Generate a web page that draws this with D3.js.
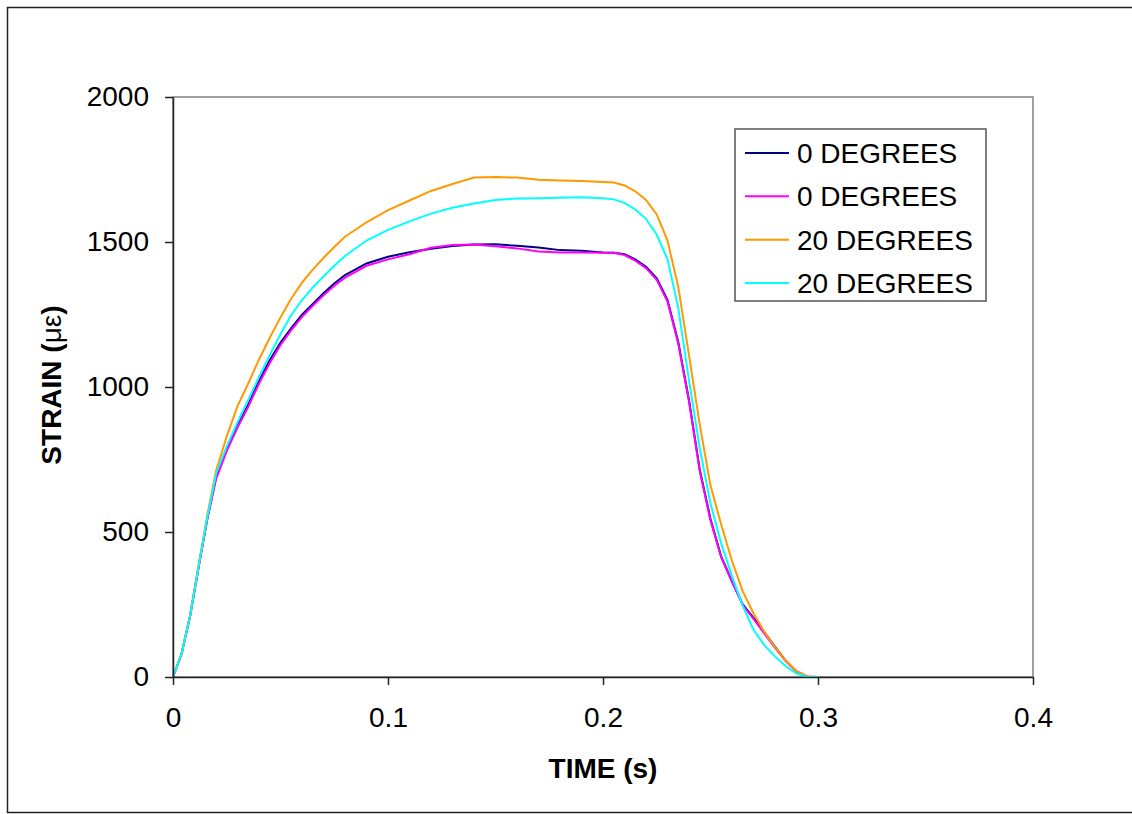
<!DOCTYPE html>
<html lang="en">
<head>
  <meta charset="UTF-8">
  <title>Strain vs time</title>
  <script src="https://d3js.org/d3.v7.min.js"></script>
  <style>
    body { margin: 0; background: #fff; }
    svg { font-family: "Liberation Sans", Arial, sans-serif; }
    .tick text { font-size: 28px; fill: #000; }
  </style>
</head>
<body>
  <svg width="1132" height="814"></svg>
  <script>
    // shared sample times (s)
    const time = [0, 0.004, 0.008, 0.012, 0.016, 0.02, 0.025, 0.03, 0.035, 0.04,
      0.045, 0.05, 0.055, 0.06, 0.065, 0.07, 0.075, 0.08, 0.09, 0.10,
      0.11, 0.12, 0.13, 0.14, 0.15, 0.16, 0.17, 0.18, 0.19, 0.20,
      0.205, 0.21, 0.215, 0.22, 0.225, 0.23, 0.235, 0.24, 0.245, 0.25,
      0.255, 0.26, 0.265, 0.27, 0.275, 0.28, 0.285, 0.29, 0.295, 0.30];

    // strain (microstrain) per series
    const deg0a = [0, 80, 212, 383, 547, 688, 785, 868, 940, 1021,
      1092, 1153, 1203, 1249, 1286, 1323, 1357, 1386, 1426, 1449,
      1465, 1477, 1486, 1491, 1492, 1487, 1481, 1472, 1470, 1464,
      1463, 1458, 1440, 1415, 1375, 1300, 1155, 955, 715, 545,
      415, 330, 250, 204, 155, 104, 56, 18, 0, 0];
    const deg0b = [0, 80, 212, 383, 547, 682, 780, 860, 932, 1012,
      1083, 1145, 1196, 1242, 1280, 1316, 1349, 1377, 1418, 1440,
      1458, 1480, 1490, 1491, 1485, 1478, 1467, 1464, 1464, 1463,
      1463, 1455, 1436, 1410, 1370, 1295, 1150, 950, 710, 540,
      412, 328, 248, 200, 150, 100, 55, 20, 2, 0];
    const deg20a = [0, 80, 215, 390, 560, 710, 830, 934, 1012, 1095,
      1170, 1240, 1305, 1360, 1405, 1445, 1483, 1518, 1568, 1610,
      1643, 1676, 1700, 1722, 1724, 1722, 1715, 1712, 1710, 1707,
      1705, 1695, 1675, 1645, 1595, 1505, 1345, 1110, 870, 660,
      525, 400, 295, 220, 156, 102, 56, 20, 2, 0];
    const deg20b = [0, 80, 213, 386, 552, 700, 795, 878, 955, 1035,
      1110, 1182, 1248, 1300, 1343, 1381, 1418, 1452, 1505, 1542,
      1571, 1598, 1618, 1633, 1645, 1650, 1651, 1653, 1654, 1651,
      1647, 1635, 1612, 1580, 1525, 1440, 1273, 1023, 789, 598,
      460, 347, 245, 163, 110, 71, 37, 12, 0, 0];

    const seriesNames = ["0 DEGREES", "0 DEGREES", "20 DEGREES", "20 DEGREES"];
    const seriesColors = ["#000080", "#ff00ff", "#ff9900", "#00ffff"];
    const seriesValues = [deg0a, deg0b, deg20a, deg20b];

    const xTicks = [0, 0.1, 0.2, 0.3, 0.4];
    const yTicks = [0, 500, 1000, 1500, 2000];

    const svg = d3.select("svg");
    const plot = { left: 173, top: 97, right: 1033, bottom: 677 };

    // outer chart border (right edge runs off the picture)
    svg.append("rect")
      .attr("x", 7.5).attr("y", 7.5)
      .attr("width", 1140).attr("height", 805)
      .attr("fill", "none")
      .attr("stroke", "#222")
      .attr("stroke-width", 1.5);

    const x = d3.scaleLinear().domain([0, 0.4]).range([plot.left, plot.right]);
    const y = d3.scaleLinear().domain([0, 2000]).range([plot.bottom, plot.top]);

    // plot area frame (grey top / right)
    svg.append("rect")
      .attr("x", plot.left).attr("y", plot.top)
      .attr("width", plot.right - plot.left)
      .attr("height", plot.bottom - plot.top)
      .attr("fill", "none")
      .attr("stroke", "#808080")
      .attr("stroke-width", 1.5);

    const fmt = d3.format("~g");

    const line = d3.line()
      .x((d, i) => x(time[i]))
      .y(d => y(d));

    svg.append("g")
      .selectAll("path")
      .data(seriesValues)
      .join("path")
      .attr("fill", "none")
      .attr("stroke", (d, i) => seriesColors[i])
      .attr("stroke-width", 2)
      .attr("d", line);

    const yAxis = svg.append("g")
      .attr("transform", `translate(${plot.left},0)`)
      .call(d3.axisLeft(y).tickValues(yTicks).tickFormat(d3.format("d"))
        .tickSize(8).tickSizeOuter(0).tickPadding(16));

    const xAxis = svg.append("g")
      .attr("transform", `translate(0,${plot.bottom})`)
      .call(d3.axisBottom(x).tickValues(xTicks).tickFormat(fmt)
        .tickSize(8).tickSizeOuter(0).tickPadding(22));

    [xAxis, yAxis].forEach(g => {
      g.attr("font-family", null).attr("font-size", null);
      g.select(".domain").attr("stroke", "#222").attr("stroke-width", 1.5);
      g.selectAll(".tick line").attr("stroke", "#222").attr("stroke-width", 1.5);
    });

    // axis titles
    svg.append("text")
      .attr("x", (plot.left + plot.right) / 2)
      .attr("y", 778)
      .attr("text-anchor", "middle")
      .attr("font-size", 28)
      .attr("font-weight", "bold")
      .text("TIME (s)");

    const yTitle = svg.append("text")
      .attr("transform", "translate(61,385) rotate(-90)")
      .attr("text-anchor", "middle")
      .attr("font-size", 28)
      .attr("font-weight", "bold");
    yTitle.append("tspan").text("STRAIN (");
    yTitle.append("tspan").attr("font-weight", "normal").text("με");
    yTitle.append("tspan").text(")");

    // legend
    const legend = svg.append("g");
    legend.append("rect")
      .attr("x", 735).attr("y", 129)
      .attr("width", 251).attr("height", 172)
      .attr("fill", "#fff")
      .attr("stroke", "#555")
      .attr("stroke-width", 1.5);

    const rowY = d3.scalePoint().domain(d3.range(seriesNames.length)).range([153, 283]);
    const rows = legend.selectAll("g.row")
      .data(seriesNames)
      .join("g")
      .attr("class", "row")
      .attr("transform", (d, i) => `translate(0,${rowY(i)})`);
    rows.append("line")
      .attr("x1", 745).attr("x2", 789)
      .attr("stroke", (d, i) => seriesColors[i])
      .attr("stroke-width", 2);
    rows.append("text")
      .attr("x", 797)
      .attr("y", 10)
      .attr("font-size", 28)
      .text(d => d);
  </script>
</body>
</html>
